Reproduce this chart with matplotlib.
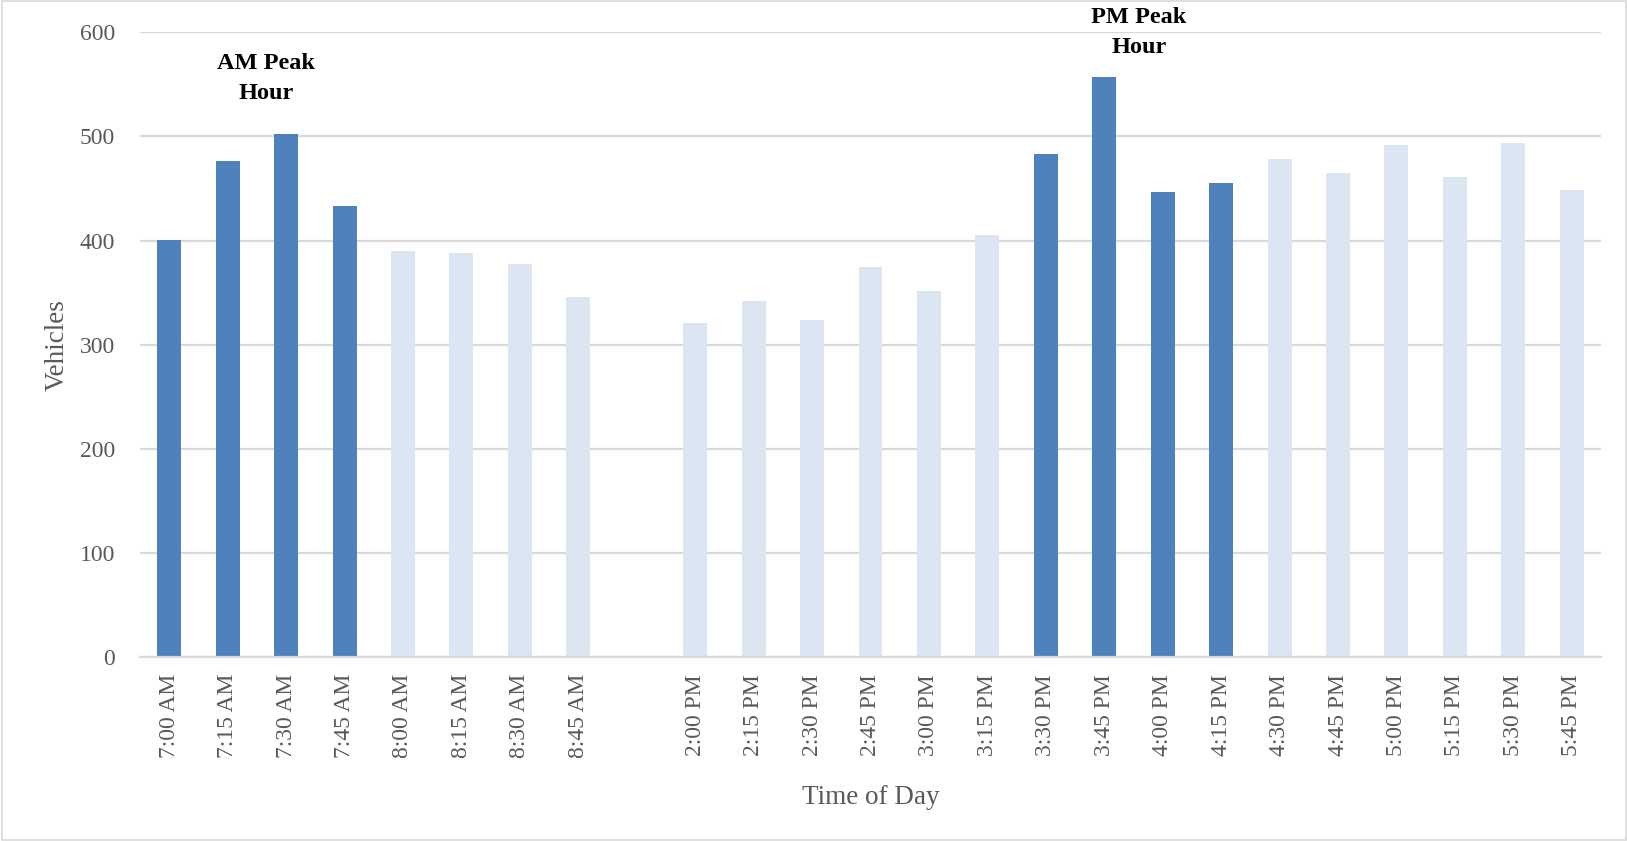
import numpy as np
import matplotlib
matplotlib.use("Agg")
import matplotlib.pyplot as plt
from matplotlib.patches import Rectangle

# Counts per 15-minute interval
am_labels = ["7:00 AM", "7:15 AM", "7:30 AM", "7:45 AM",
             "8:00 AM", "8:15 AM", "8:30 AM", "8:45 AM"]
am_values = [401, 476, 502, 433, 390, 388, 378, 346]
am_peak = [True, True, True, True, False, False, False, False]

pm_labels = ["2:00 PM", "2:15 PM", "2:30 PM", "2:45 PM", "3:00 PM", "3:15 PM",
             "3:30 PM", "3:45 PM", "4:00 PM", "4:15 PM", "4:30 PM", "4:45 PM",
             "5:00 PM", "5:15 PM", "5:30 PM", "5:45 PM"]
pm_values = [321, 342, 324, 375, 352, 405, 483, 557,
             447, 455, 478, 465, 492, 461, 494, 449]
pm_peak = [False, False, False, False, False, False, True, True,
           True, True, False, False, False, False, False, False]

y_ticks = [0, 100, 200, 300, 400, 500, 600]

PEAK_COLOR = "#4F81BD"
OFF_COLOR = "#DCE6F2"
GRID_COLOR = "#D9D9D9"
TEXT_COLOR = "#595959"
FONT = ["Liberation Serif", "DejaVu Serif"]

# One empty category separates the morning and afternoon counts
labels = am_labels + [""] + pm_labels
values = am_values + [np.nan] + pm_values
peaks = am_peak + [False] + pm_peak
x = np.arange(len(labels))

plt.rcParams["font.family"] = FONT

fig = plt.figure(figsize=(16.27, 8.41), dpi=100)
ax = fig.add_axes([140 / 1627, 1 - 657.3 / 841, 1461 / 1627, 625 / 841])

colors = [PEAK_COLOR if p else OFF_COLOR for p in peaks]
ax.bar(x, values, width=0.41, color=colors, linewidth=0, zorder=3)

ax.set_xlim(-0.5, len(labels) - 0.5)
ax.set_ylim(0, 600)
ax.set_yticks(y_ticks)
ax.set_yticklabels([str(v) for v in y_ticks])
ax.set_xticks(x)
ax.set_xticklabels(labels, rotation=90)

ax.yaxis.grid(True, color=GRID_COLOR, linewidth=1.6, zorder=0)
ax.set_axisbelow(True)
for side in ["left", "right", "top"]:
    ax.spines[side].set_visible(False)
ax.spines["bottom"].set_color(GRID_COLOR)
ax.spines["bottom"].set_linewidth(1.6)
ax.spines["bottom"].set_zorder(4)

ax.tick_params(axis="both", length=0, labelsize=17, labelcolor=TEXT_COLOR)
ax.tick_params(axis="y", pad=18)
ax.tick_params(axis="x", pad=12)

ax.set_ylabel("Vehicles", fontsize=19.5, color=TEXT_COLOR)
ax.set_xlabel("Time of Day", fontsize=19.5, color=TEXT_COLOR)
ax.yaxis.set_label_coords(-0.048, 0.5)
ax.xaxis.set_label_coords(0.5, -0.205)

# Peak-hour callouts
ax.text(1.66, 556, "AM Peak\nHour", ha="center", va="center", fontsize=17.5,
        fontweight="bold", color="black", linespacing=1.55, clip_on=False)
ax.text(16.59, 600, "PM Peak\nHour", ha="center", va="center", fontsize=17.5,
        fontweight="bold", color="black", linespacing=1.55, clip_on=False)

# Thin frame around the whole chart
fig.patches.append(Rectangle((1.5 / 1627, 1 / 841), 1 - 3 / 1627, 1 - 2 / 841,
                             transform=fig.transFigure, fill=False,
                             edgecolor=GRID_COLOR, linewidth=1.2))

fig.savefig("out.png", dpi=100, facecolor="white")
